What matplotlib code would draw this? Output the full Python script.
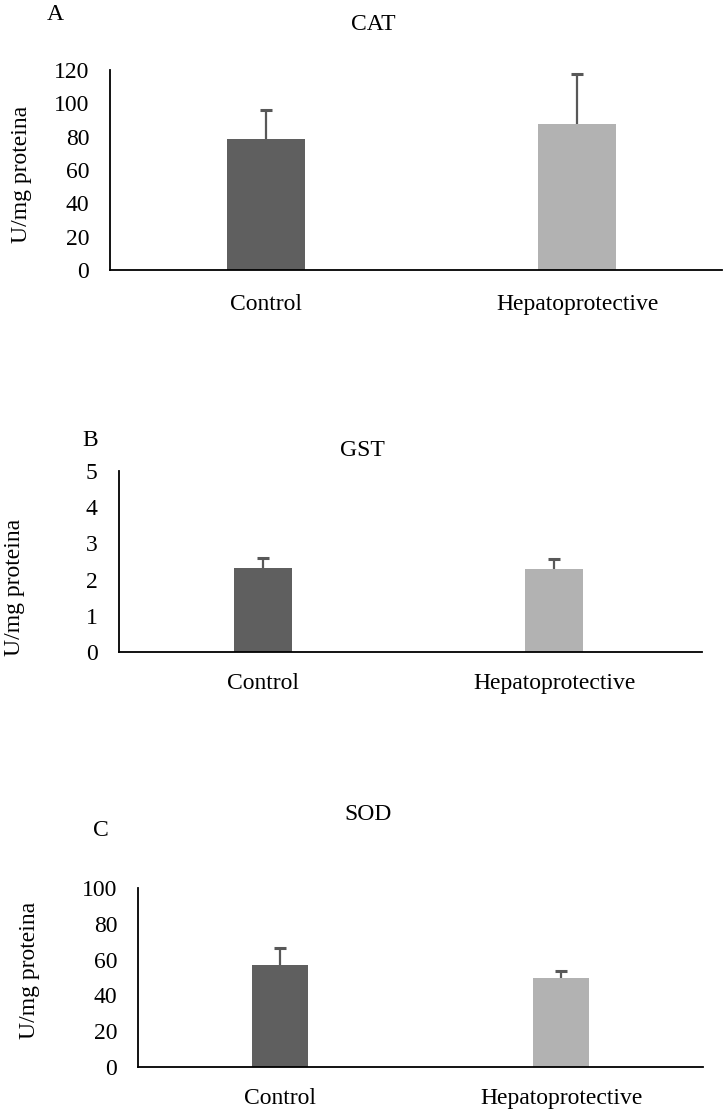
import matplotlib
matplotlib.use("Agg")
import matplotlib.pyplot as plt

plt.rcParams['font.family'] = ['Liberation Serif', 'DejaVu Serif']

categories = ["Control", "Hepatoprotective"]
panel_letters = ["A", "B", "C"]
titles = ["CAT", "GST", "SOD"]
ylabel = "U/mg proteina"

cat_means = [78.6, 87.6]
cat_err = [17.5, 30.2]
gst_means = [2.31, 2.28]
gst_err = [0.29, 0.28]
sod_means = [57.0, 49.5]
sod_err = [9.7, 4.0]

cat_ticks = [0, 20, 40, 60, 80, 100, 120]
gst_ticks = [0, 1, 2, 3, 4, 5]
sod_ticks = [0, 20, 40, 60, 80, 100]

colors = ["#5f5f5f", "#b2b2b2"]
ecolor = "#585858"

W, H = 724, 1109
fig = plt.figure(figsize=(W / 100, H / 100), dpi=100)

# layout in pixels: left, right, top, bottom, xlim, bar width
layouts = [
    dict(l=110, r=722, t=70, b=270, xlim=(-0.502, 1.466), bw=0.25,
         letter=(55, 15), title=(373, 24), ylab=(22, 174), xpad=17.5),
    dict(l=118.5, r=702, t=471, b=652, xlim=(-0.497, 1.507), bw=0.2,
         letter=(90, 441), title=(362, 450), ylab=(15, 587), xpad=15),
    dict(l=138, r=703, t=888, b=1067, xlim=(-0.503, 1.503), bw=0.2,
         letter=(101, 830), title=(368, 815), ylab=(29, 970), xpad=15),
]
datasets = [(cat_means, cat_err, cat_ticks),
            (gst_means, gst_err, gst_ticks),
            (sod_means, sod_err, sod_ticks)]

fs = 17
for i, (lay, (means, errs, ticks)) in enumerate(zip(layouts, datasets)):
    ax = fig.add_axes([lay['l'] / W, 1 - lay['b'] / H,
                       (lay['r'] - lay['l']) / W, (lay['b'] - lay['t']) / H])
    x = list(range(len(categories)))
    bars = ax.bar(x, means, width=lay['bw'], color=colors,
                  yerr=[[0] * len(errs), errs],
                  error_kw=dict(ecolor=ecolor, elinewidth=1.6, capsize=4.3, capthick=2.2))
    caplines = bars.errorbar.lines[1]
    if len(caplines) > 0:
        caplines[0].set_visible(False)
    ax.set_xlim(*lay['xlim'])
    ax.set_ylim(ticks[0], ticks[-1])
    ax.set_yticks(ticks)
    ax.set_xticks(x)
    ax.set_xticklabels(categories, fontsize=fs)
    ax.tick_params(axis='y', length=0, pad=15, labelsize=fs)
    ax.tick_params(axis='x', length=0, pad=lay['xpad'], labelsize=fs)
    for s in ['top', 'right']:
        ax.spines[s].set_visible(False)
    for s in ['left', 'bottom']:
        ax.spines[s].set_linewidth(1.3)
        ax.spines[s].set_color('black')
    fig.text(lay['letter'][0] / W, 1 - lay['letter'][1] / H, panel_letters[i],
             fontsize=fs, ha='center', va='center')
    fig.text(lay['title'][0] / W, 1 - lay['title'][1] / H, titles[i],
             fontsize=fs, ha='center', va='center')
    fig.text(lay['ylab'][0] / W, 1 - lay['ylab'][1] / H, ylabel,
             fontsize=fs, ha='center', va='center', rotation=90)

fig.savefig("out.png", dpi=100)
